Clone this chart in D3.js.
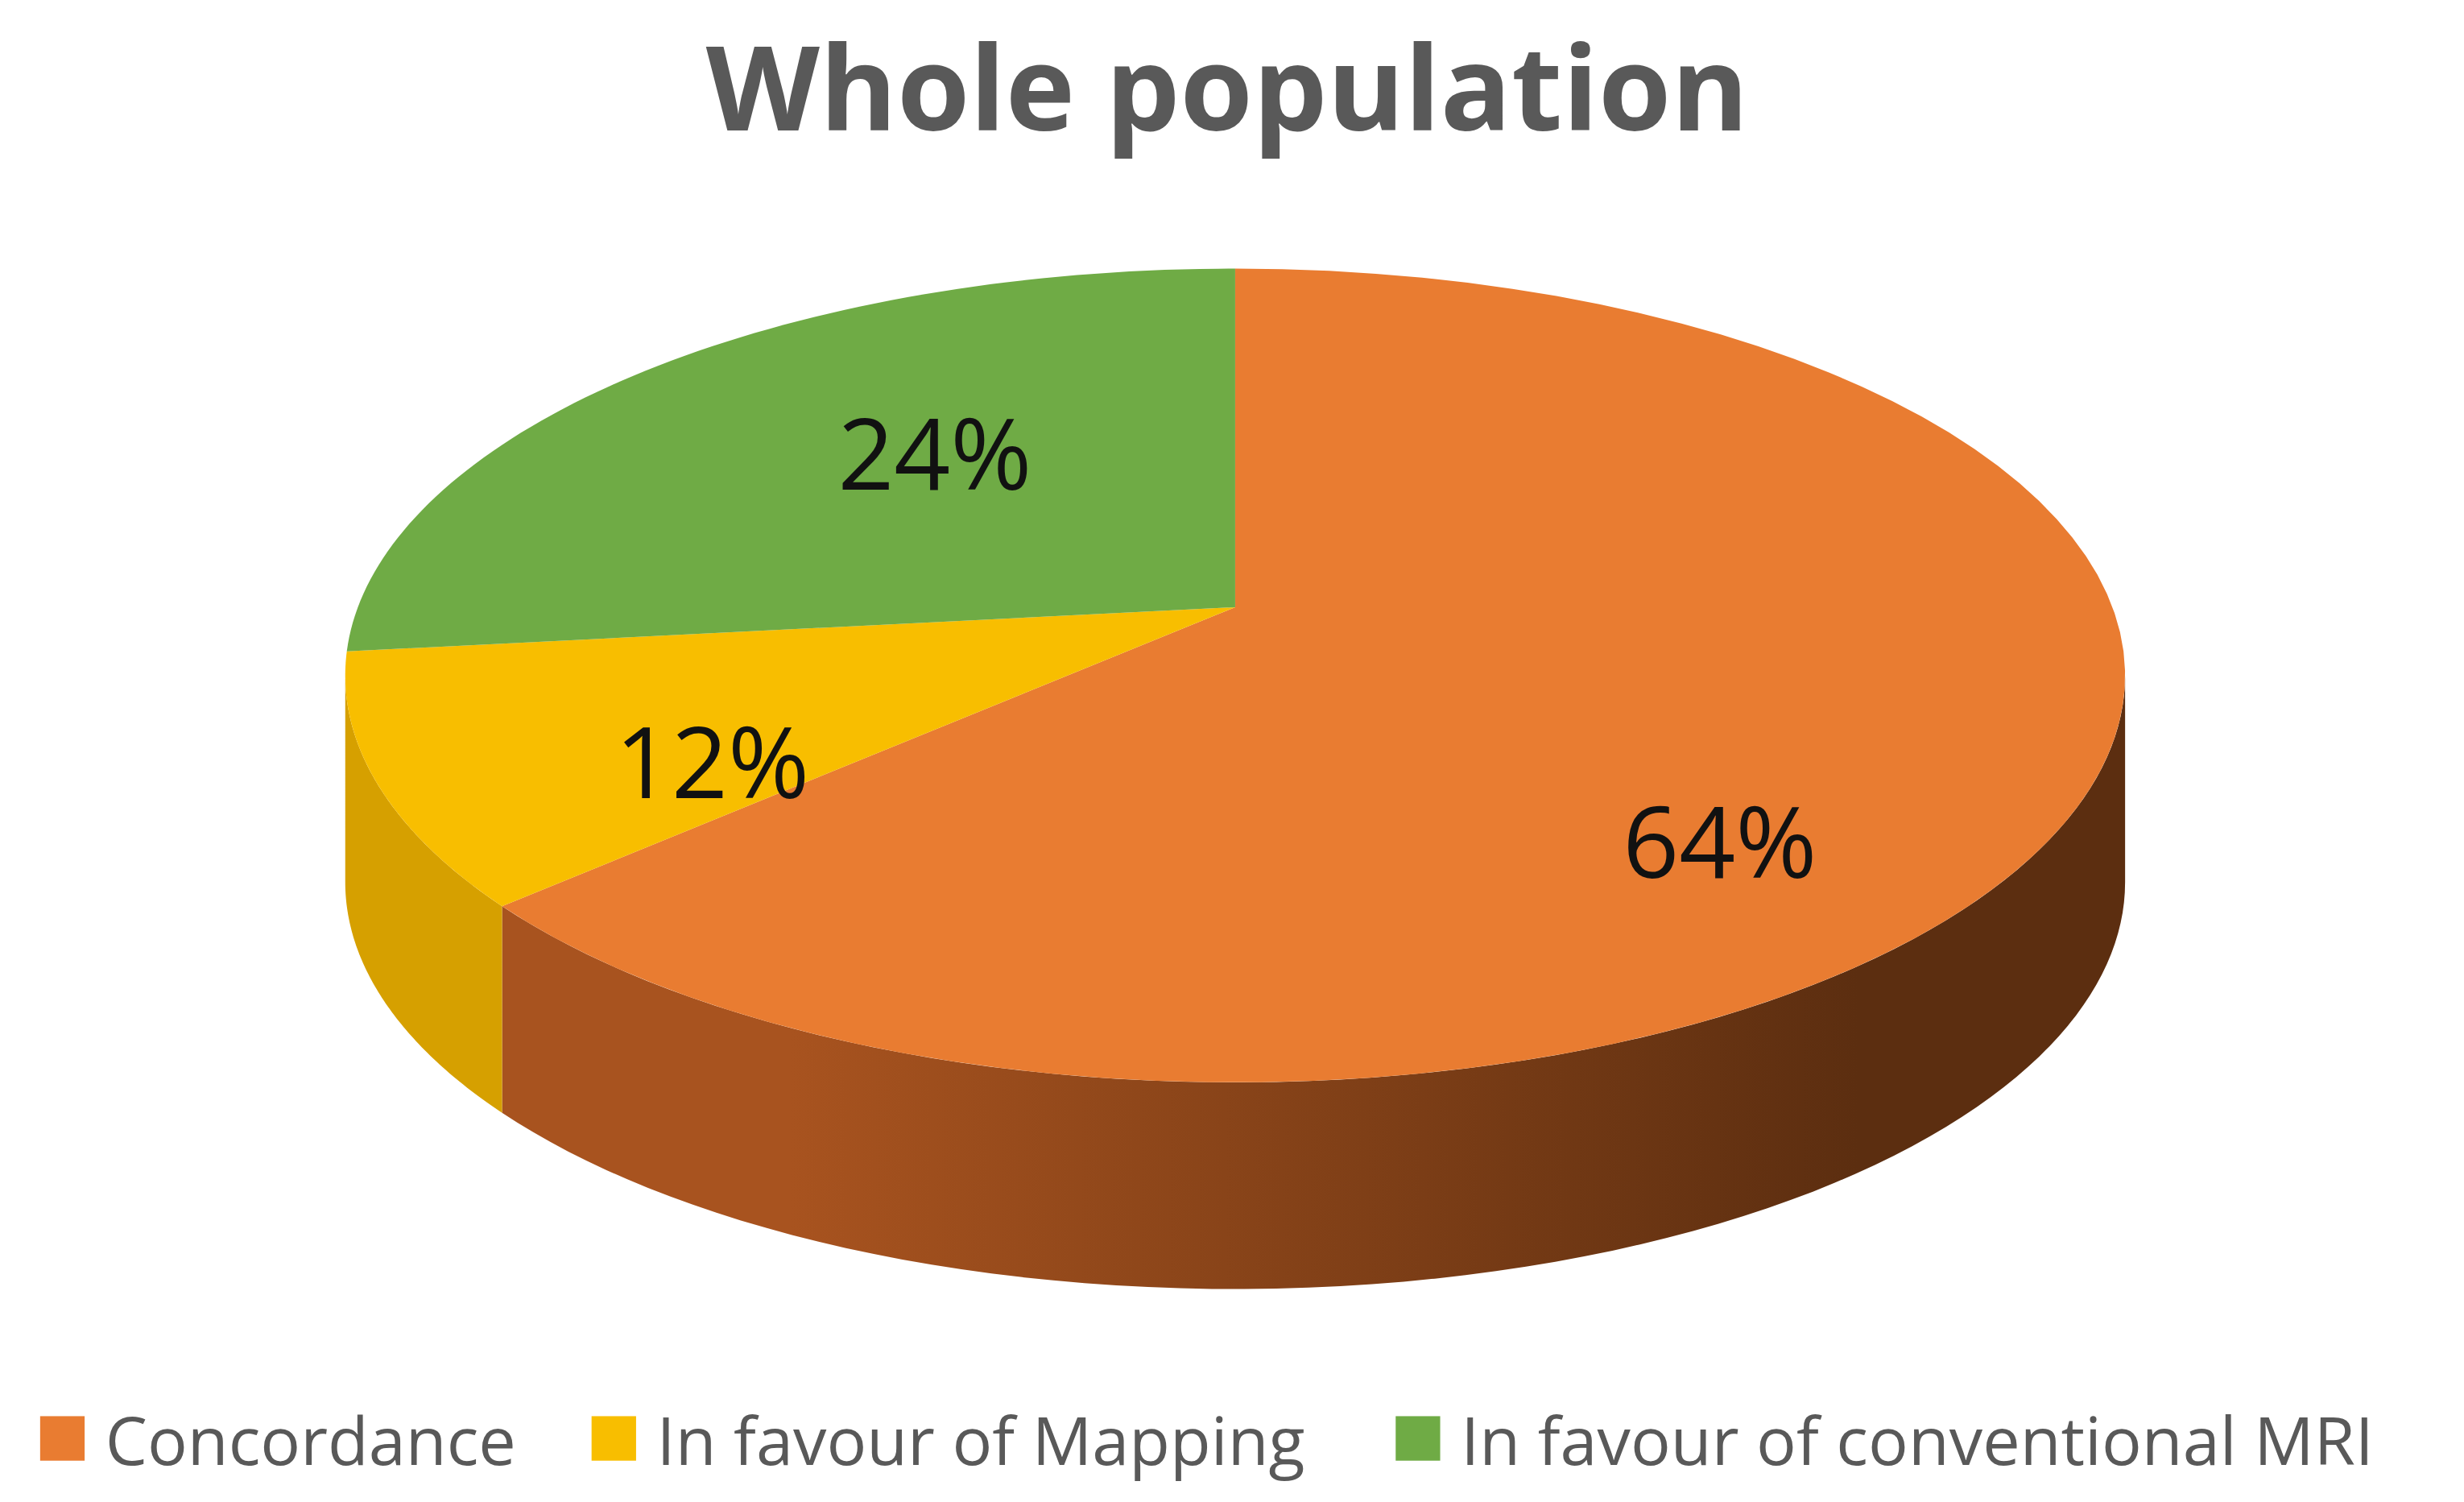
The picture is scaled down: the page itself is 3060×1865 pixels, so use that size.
<!DOCTYPE html>
<html><head><meta charset="utf-8">
<script src="https://cdn.jsdelivr.net/npm/d3@7"></script>
<style>body{margin:0;background:#fff}</style>
</head><body>
<svg id="chart" width="3060" height="1865" viewBox="0 0 1550 945"></svg>
<script>
var categories = ["Concordance", "In favour of Mapping", "In favour of conventional MRI"];
var values = [64, 12, 24];
var labels = ["64%", "12%", "24%"];
var colors = ["#E97C31", "#F8BE00", "#6FAB45"];
var sideDark = [["#A8531F", "#5C2E10"], ["#D6A000", "#C09000"], ["#5a8a36", "#4a7530"]];

var svg = d3.select("#chart");
var cx = 777, cy = 425, rx = 560, ry = 256, depth = 130;
var vx = 777, vy = 382; // wedge apex (perspective offset)

// slight perspective: front angles stretched toward the viewer
function warp(a) {
  return a + 0.09 * Math.sin(2 * a) * (Math.cos(a) < 0 ? 1 : 0.3);
}
function pt(a, dy) {
  var w = warp(a);
  return [cx + rx * Math.sin(w), cy - ry * Math.cos(w) + (dy || 0)];
}
function arcPts(a0, a1, dy) {
  var n = 80, out = [];
  for (var i = 0; i <= n; i++) out.push(pt(a0 + (a1 - a0) * i / n, dy));
  return out;
}

var arcs = d3.pie().sort(null)(values);

var defs = svg.append("defs");
sideDark.forEach(function(c, i) {
  var g = defs.append("linearGradient").attr("id", "side" + i)
    .attr("gradientUnits", "userSpaceOnUse")
    .attr("x1", cx - rx).attr("x2", cx + rx).attr("y1", 0).attr("y2", 0);
  g.append("stop").attr("offset", "0.25").attr("stop-color", c[0]);
  g.append("stop").attr("offset", "0.85").attr("stop-color", c[1]);
});

var line = d3.line();

// sides (front half only)
arcs.forEach(function(d, i) {
  var a0 = Math.max(d.startAngle, Math.PI / 2), a1 = Math.min(d.endAngle, 3 * Math.PI / 2);
  if (a1 <= a0) return;
  var pts = arcPts(a0, a1, 0).concat(arcPts(a1, a0, depth));
  svg.append("path").attr("d", line(pts) + "Z")
    .attr("fill", "url(#side" + i + ")");
});

// top faces
arcs.forEach(function(d, i) {
  var pts = [[vx, vy]].concat(arcPts(d.startAngle, d.endAngle, 0));
  svg.append("path").attr("d", line(pts) + "Z").attr("fill", colors[i]);
});

// labels
var labelPos = [[1082, 528], [448, 478], [588, 284]];
svg.selectAll("text.lab").data(labels).enter().append("text")
  .attr("class", "lab")
  .attr("x", (d, i) => labelPos[i][0]).attr("y", (d, i) => labelPos[i][1])
  .attr("text-anchor", "middle").attr("dominant-baseline", "central")
  .attr("font-family", "Open Sans, sans-serif").attr("font-size", 62)
  .attr("fill", "#111").text(d => d);

svg.append("text").attr("x", 772).attr("y", 82).attr("text-anchor", "middle")
  .attr("font-family", "Open Sans, sans-serif").attr("font-weight", "bold")
  .attr("font-size", 74).attr("fill", "#595959").text("Whole population");

// legend
var legX = [25, 372, 878];
var leg = svg.selectAll("g.leg").data(categories).enter().append("g")
  .attr("transform", (d, i) => "translate(" + legX[i] + ",905)");
leg.append("rect").attr("x", 0).attr("y", -14).attr("width", 28).attr("height", 28)
  .attr("fill", (d, i) => colors[i]);
leg.append("text").attr("x", 41).attr("y", 0).attr("dominant-baseline", "central")
  .attr("font-family", "Open Sans, sans-serif").attr("font-size", 42)
  .attr("fill", "#595959").text(d => d);
</script>
</body></html>
